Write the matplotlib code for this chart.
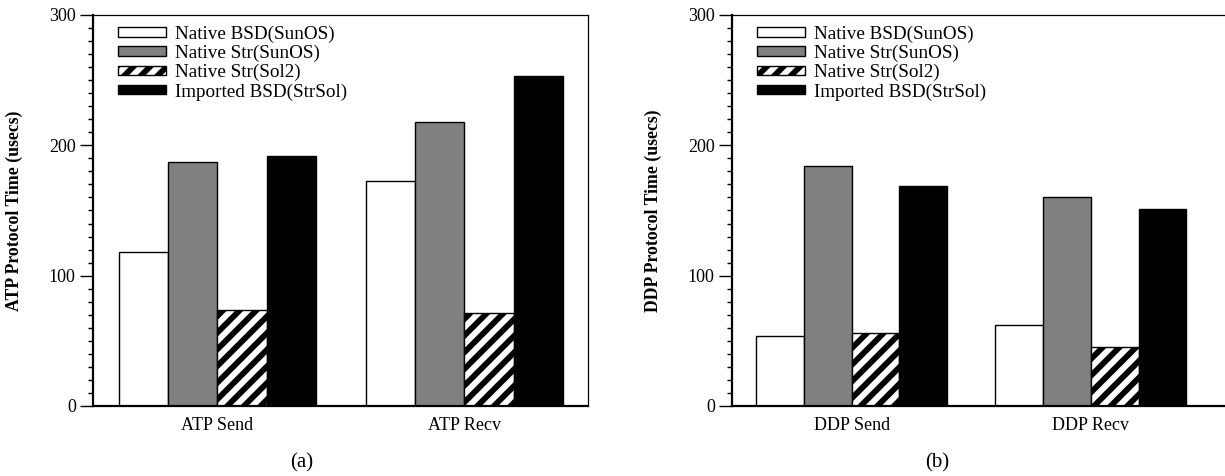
import matplotlib
matplotlib.use("Agg")
import matplotlib.pyplot as plt
import numpy as np
from matplotlib.ticker import MultipleLocator

plt.rcParams['font.family'] = ['Liberation Serif', 'DejaVu Serif']
plt.rcParams['hatch.linewidth'] = 4.2

series = ["Native BSD(SunOS)", "Native Str(SunOS)", "Native Str(Sol2)", "Imported BSD(StrSol)"]
atp_categories = ["ATP Send", "ATP Recv"]
atp_values = [
    [118, 173],   # Native BSD(SunOS)
    [187, 218],   # Native Str(SunOS)
    [74, 71],     # Native Str(Sol2)
    [192, 253],   # Imported BSD(StrSol)
]
ddp_categories = ["DDP Send", "DDP Recv"]
ddp_values = [
    [54, 62],
    [184, 160],
    [56, 45],
    [169, 151],
]
yticks = [0, 100, 200, 300]
captions = ["(a)", "(b)"]

facecolors = ["white", "#808080", "white", "black"]
hatches = [None, None, "//", None]

fig = plt.figure(figsize=(12.25, 4.76), dpi=100)
ax1 = fig.add_axes([93/1225, 70/476, 495/1225, 391/476])
ax2 = fig.add_axes([732/1225, 70/476, 493/1225, 391/476])

def draw(ax, cats, vals, ylabel, xlim, show_right):
    x = np.arange(len(cats))
    w = 0.2
    for i, (name, v) in enumerate(zip(series, vals)):
        ax.bar(x + (i - 1.5) * w, v, width=w, facecolor=facecolors[i],
               edgecolor="black", linewidth=1.0, hatch=hatches[i], label=name)
    ax.set_xlim(*xlim)
    ax.set_ylim(0, 300)
    ax.set_xticks(x)
    ax.set_xticklabels(cats, fontsize=13)
    ax.set_yticks(yticks)
    ax.set_yticklabels([str(t) for t in yticks], fontsize=13)
    ax.yaxis.set_minor_locator(MultipleLocator(10))
    ax.tick_params(axis='y', which='major', direction='out', length=9.4, width=1.0, pad=3)
    ax.tick_params(axis='y', which='minor', direction='out', length=3.6, width=1.0)
    ax.tick_params(axis='x', which='both', length=0, pad=8)
    ax.set_ylabel(ylabel, fontsize=12.8, fontweight='bold')
    ax.yaxis.set_label_coords(-0.141, 0.5)
    ax.spines['left'].set_linewidth(1.6)
    ax.spines['bottom'].set_linewidth(1.6)
    ax.spines['top'].set_linewidth(0.9)
    ax.spines['right'].set_linewidth(0.9)
    ax.spines['right'].set_visible(show_right)
    ax.legend(loc='upper left', bbox_to_anchor=(0.029, 1.0), frameon=False,
              fontsize=13.8, handlelength=2.5, handleheight=0.4,
              labelspacing=0.1, handletextpad=0.5, borderaxespad=0.15)

draw(ax1, atp_categories, atp_values, "ATP Protocol Time (usecs)", (-0.504, 1.5), True)
draw(ax2, ddp_categories, ddp_values, "DDP Protocol Time (usecs)", (-0.5, 1.561), False)

fig.text(302/1225, 1 - 463/476, captions[0], fontsize=15, ha='center', va='center')
fig.text(937/1225, 1 - 463/476, captions[1], fontsize=15, ha='center', va='center')

fig.savefig("out.png", dpi=100)
